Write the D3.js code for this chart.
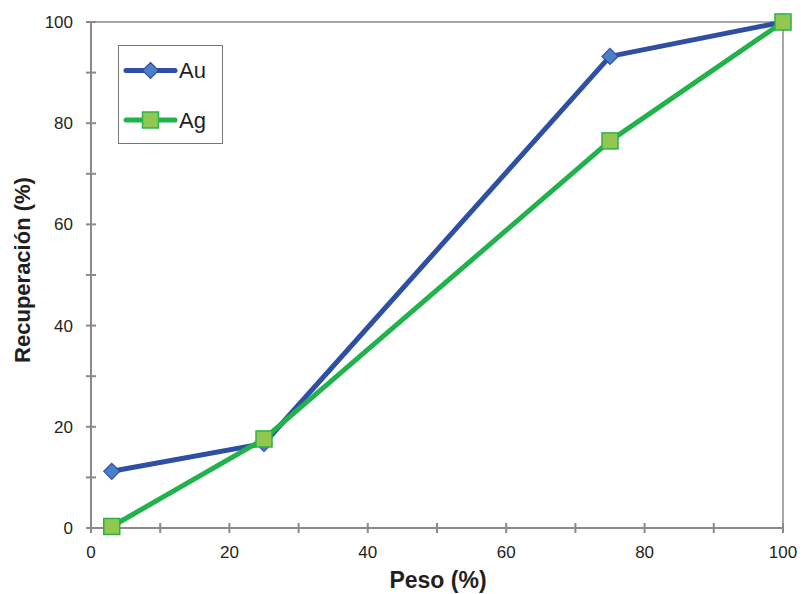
<!DOCTYPE html>
<html>
<head>
<meta charset="utf-8">
<script src="https://cdn.jsdelivr.net/npm/d3@7"></script>
<style>
  html, body { margin: 0; padding: 0; background: #fff; }
  svg { display: block; font-family: "Liberation Sans", Arial, sans-serif; }
</style>
</head>
<body>
<svg id="chart" width="801" height="594"></svg>
<script>
// Recovery vs. weight fraction for gold and silver
const peso = [3, 25, 75, 100];
const au = [11.2, 16.7, 93.2, 100];
const ag = [0.3, 17.6, 76.5, 100];
const seriesNames = ["Au", "Ag"];
const xTicks = [0, 20, 40, 60, 80, 100];
const yTicks = [0, 20, 40, 60, 80, 100];

const svg = d3.select("#chart");
const margin = { left: 91, right: 18, top: 22, bottom: 66 };
const W = 801, H = 594;

const x = d3.scaleLinear().domain([0, 100]).range([margin.left, W - margin.right]);
const y = d3.scaleLinear().domain([0, 100]).range([H - margin.bottom, margin.top]);

const axisColor = "#8a8a8c";

// plot frame (top and right edges)
svg.append("path")
  .attr("d", `M${x(0)},${y(100)}H${x(100)}V${y(0)}`)
  .attr("fill", "none").attr("stroke", axisColor).attr("stroke-width", 1.5);

// x axis: minor ticks every 10 crossing the line, labels every 20
const xAxis = svg.append("g").attr("transform", `translate(0,${y(0)})`);
xAxis.append("line").attr("x1", x(0)).attr("x2", x(100))
  .attr("stroke", axisColor).attr("stroke-width", 2);
xAxis.selectAll("line.tick").data(d3.range(0, 101, 10)).join("line")
  .attr("class", "tick")
  .attr("x1", d => x(d)).attr("x2", d => x(d)).attr("y1", -5).attr("y2", 5)
  .attr("stroke", axisColor).attr("stroke-width", 2);
xAxis.selectAll("text").data(xTicks).join("text")
  .attr("x", d => x(d)).attr("y", 30)
  .attr("text-anchor", "middle").attr("font-size", 17).attr("fill", "#231f20")
  .text(d => d);

// y axis
const yAxis = svg.append("g").attr("transform", `translate(${x(0)},0)`);
yAxis.append("line").attr("y1", y(0)).attr("y2", y(100))
  .attr("stroke", axisColor).attr("stroke-width", 2);
yAxis.selectAll("line.tick").data(d3.range(0, 101, 10)).join("line")
  .attr("class", "tick")
  .attr("y1", d => y(d)).attr("y2", d => y(d)).attr("x1", -5).attr("x2", 5)
  .attr("stroke", axisColor).attr("stroke-width", 2);
yAxis.selectAll("text").data(yTicks).join("text")
  .attr("x", -18).attr("y", d => y(d)).attr("dy", "0.35em")
  .attr("text-anchor", "end").attr("font-size", 17).attr("fill", "#231f20")
  .text(d => d);

// axis titles
svg.append("text")
  .attr("x", (x(0) + x(100)) / 2 + 1).attr("y", 588)
  .attr("text-anchor", "middle").attr("font-size", 23).attr("font-weight", "bold")
  .attr("fill", "#231f20").text("Peso (%)");
svg.append("text")
  .attr("transform", `translate(30,270) rotate(-90)`)
  .attr("text-anchor", "middle").attr("font-size", 22).attr("font-weight", "bold")
  .attr("fill", "#231f20").text("Recuperación (%)");

const styles = {
  Au: { line: "#2e4fa3", fill: "#4b7fc8", stroke: "#2e4fa3", marker: "diamond" },
  Ag: { line: "#22b24c", fill: "#92c84f", stroke: "#2bb24c", marker: "square" }
};
const seriesData = { Au: au, Ag: ag };

function drawMarker(g, kind, st) {
  if (kind === "diamond") {
    g.append("path").attr("d", "M0,-8L8,0L0,8L-8,0Z")
      .attr("fill", st.fill).attr("stroke", st.stroke).attr("stroke-width", 1.2);
  } else {
    g.append("rect").attr("x", -8).attr("y", -8).attr("width", 16).attr("height", 16)
      .attr("fill", st.fill).attr("stroke", st.stroke).attr("stroke-width", 1.5);
  }
}

const line = d3.line().x(d => x(d[0])).y(d => y(d[1]));

seriesNames.forEach(name => {
  const st = styles[name];
  const pts = peso.map((p, i) => [p, seriesData[name][i]]);
  svg.append("path").datum(pts).attr("d", line)
    .attr("fill", "none").attr("stroke", st.line).attr("stroke-width", 5)
    .attr("stroke-linejoin", "round");
  pts.forEach(p => {
    const g = svg.append("g").attr("transform", `translate(${x(p[0])},${y(p[1])})`);
    drawMarker(g, st.marker, st);
  });
});

// legend
const legend = svg.append("g");
legend.append("rect").attr("x", 118.5).attr("y", 45.5).attr("width", 104).attr("height", 98)
  .attr("fill", "#fff").attr("stroke", "#777").attr("stroke-width", 1);
seriesNames.forEach((name, i) => {
  const st = styles[name];
  const ly = 70.5 + i * 49.5;
  legend.append("line").attr("x1", 126).attr("x2", 175).attr("y1", ly).attr("y2", ly)
    .attr("stroke", st.line).attr("stroke-width", 5).attr("stroke-linecap", "round");
  drawMarker(legend.append("g").attr("transform", `translate(150.5,${ly})`), st.marker, st);
  legend.append("text").attr("x", 179).attr("y", ly).attr("dy", "0.36em")
    .attr("font-size", 22).attr("fill", "#231f20").text(name);
});
</script>
</body>
</html>
